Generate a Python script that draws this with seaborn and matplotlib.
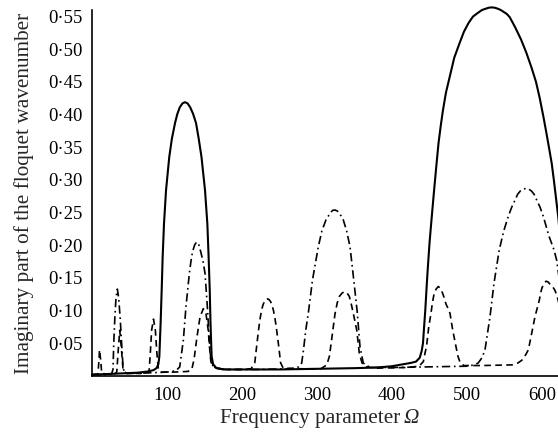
import matplotlib
matplotlib.use("Agg")
import matplotlib.pyplot as plt
import seaborn as sns
import pandas as pd

# ---------------- data ----------------
omega_solid = [0, 20, 40, 60, 75, 82, 86, 88.5, 89.8, 91.5,
               92.9, 94.2, 96, 98.7, 103, 106.5, 110.7, 113.8, 117, 120.5,
               124, 127.5, 131, 134.8, 138.7, 142.3, 146, 150.7, 153.8, 155.5,
               157, 158, 159.5, 161.5, 166, 175, 200, 250, 300, 350,
               380, 400, 415, 425, 432, 437, 439.5, 441.3, 442.8, 444.4,
               445.7, 447, 448.5, 450, 451.9, 453.8, 455.8, 457.8, 459.9, 462,
               465, 468, 472, 477, 483, 490, 496, 502, 508, 515,
               520, 525, 529, 533, 537, 541, 545, 549, 553, 557,
               564, 572, 579, 586, 592, 597, 602, 606, 610, 613,
               616, 619, 622, 626, 629]
imag_solid = [0.002, 0.003, 0.004, 0.005, 0.007, 0.009, 0.012, 0.018, 0.030, 0.081,
              0.131, 0.182, 0.233, 0.284, 0.335, 0.363, 0.387, 0.401, 0.411, 0.417,
              0.419, 0.417, 0.411, 0.401, 0.387, 0.363, 0.335, 0.284, 0.233, 0.182,
              0.131, 0.081, 0.030, 0.018, 0.012, 0.010, 0.010, 0.010, 0.011, 0.012,
              0.013, 0.015, 0.018, 0.020, 0.022, 0.028, 0.038, 0.050, 0.075, 0.101,
              0.127, 0.152, 0.178, 0.203, 0.229, 0.254, 0.280, 0.305, 0.331, 0.356,
              0.383, 0.407, 0.434, 0.458, 0.487, 0.509, 0.527, 0.540, 0.550, 0.556,
              0.560, 0.562, 0.5635, 0.564, 0.5635, 0.562, 0.560, 0.557, 0.554, 0.549,
              0.534, 0.515, 0.495, 0.472, 0.450, 0.425, 0.396, 0.371, 0.345, 0.325,
              0.298, 0.269, 0.240, 0.180, 0.100]

omega_dashdot = [0, 20, 26, 28, 29, 30.5, 32, 33.8, 35.5, 37.5,
                 39.5, 41.5, 44, 60, 80, 100, 112, 117, 121.8, 125.3,
                 129.8, 132, 134, 137, 139.6, 142.3, 145, 148, 150.7, 153.8,
                 156.4, 158.5, 161, 166, 180, 220, 260, 272, 277, 279.6,
                 282, 285, 288.4, 294, 301.8, 306.5, 312, 318, 321, 324,
                 327, 330, 335, 339.5, 344, 349, 353.8, 357.3, 361.7, 366,
                 372, 400, 450, 500, 510, 515, 520, 524, 530.7, 536,
                 543, 549, 555, 559.5, 564, 567.5, 571, 575, 578.7, 582.3,
                 586, 589.5, 593, 597.5, 601.8, 609, 616, 619.6, 624, 628]
imag_dashdot = [0.002, 0.002, 0.003, 0.010, 0.050, 0.090, 0.120, 0.133, 0.120, 0.090,
                0.050, 0.012, 0.004, 0.004, 0.005, 0.006, 0.008, 0.014, 0.055, 0.106,
                0.157, 0.176, 0.190, 0.201, 0.205, 0.201, 0.190, 0.176, 0.157, 0.106,
                0.055, 0.025, 0.016, 0.012, 0.010, 0.010, 0.011, 0.012, 0.015, 0.020,
                0.040, 0.070, 0.096, 0.147, 0.198, 0.222, 0.239, 0.250, 0.2535, 0.254,
                0.2525, 0.249, 0.239, 0.222, 0.198, 0.147, 0.096, 0.045, 0.020, 0.016,
                0.013, 0.013, 0.014, 0.015, 0.017, 0.020, 0.028, 0.040, 0.091, 0.142,
                0.193, 0.222, 0.244, 0.258, 0.269, 0.278, 0.283, 0.286, 0.287, 0.286,
                0.283, 0.278, 0.269, 0.258, 0.244, 0.215, 0.193, 0.177, 0.140, 0.080]

omega_dashed = [0, 7, 8, 9, 10, 11.5, 13, 20, 30, 33,
                35, 37, 39, 41.5, 46, 65, 76, 77.5, 79.5, 82,
                84.5, 86.5, 88.5, 92, 110, 128, 133, 136, 140, 144,
                148.4, 152, 155, 157, 158.5, 161, 166, 180, 200, 212,
                217, 219.5, 222, 224, 226, 228, 230, 232, 234, 236,
                238, 240, 242, 244, 246, 249, 251.5, 255, 280, 305,
                313, 316.5, 320, 324, 327, 330, 333.5, 337, 340, 343,
                345.7, 348.4, 353, 356.4, 360, 365, 380, 420, 436, 441.8,
                444, 446, 449, 452, 454, 456, 458.8, 461.8, 464.5, 467,
                469.5, 472, 474.5, 477.3, 481, 485.3, 488, 491, 496, 520,
                560, 568, 573, 578, 581.8, 586.2, 590.7, 596.4, 598.2, 600,
                602.6, 605.3, 608, 611, 614, 617.3, 620.4, 625, 630]
imag_dashed = [0.002, 0.003, 0.004, 0.020, 0.040, 0.025, 0.004, 0.003, 0.003, 0.006,
               0.040, 0.070, 0.045, 0.008, 0.004, 0.004, 0.006, 0.030, 0.070, 0.087,
               0.070, 0.035, 0.010, 0.006, 0.006, 0.007, 0.010, 0.025, 0.060, 0.090,
               0.103, 0.095, 0.070, 0.040, 0.022, 0.015, 0.012, 0.010, 0.010, 0.011,
               0.020, 0.045, 0.070, 0.087, 0.100, 0.109, 0.114, 0.117, 0.118, 0.117,
               0.114, 0.109, 0.100, 0.088, 0.072, 0.045, 0.020, 0.012, 0.011, 0.011,
               0.017, 0.030, 0.060, 0.095, 0.112, 0.122, 0.127, 0.129, 0.127, 0.122,
               0.110, 0.096, 0.070, 0.035, 0.020, 0.014, 0.012, 0.013, 0.015, 0.022,
               0.035, 0.045, 0.075, 0.096, 0.113, 0.125, 0.133, 0.137, 0.134, 0.128,
               0.120, 0.110, 0.104, 0.096, 0.070, 0.045, 0.030, 0.020, 0.016, 0.016,
               0.017, 0.020, 0.024, 0.032, 0.040, 0.065, 0.091, 0.116, 0.127, 0.135,
               0.141, 0.145, 0.144, 0.140, 0.137, 0.131, 0.121, 0.100, 0.060]

assert len(omega_solid) == len(imag_solid)
assert len(omega_dashdot) == len(imag_dashdot)
assert len(omega_dashed) == len(imag_dashed)

yticks = [0.05, 0.10, 0.15, 0.20, 0.25, 0.30, 0.35, 0.40, 0.45, 0.50, 0.55]
ytick_labels = ['0·05', '0·10', '0·15', '0·20', '0·25', '0·30', '0·35',
                '0·40', '0·45', '0·50', '0·55']
xticks = [100, 200, 300, 400, 500, 600]
xtick_labels = ['100', '200', '300', '400', '500', '600']

# ---------------- figure ----------------
sns.set_style("white")
plt.rcParams['font.family'] = ['Liberation Serif', 'DejaVu Serif']
plt.rcParams['font.size'] = 13.5

W, H = 558, 437
fig = plt.figure(figsize=(W / 100, H / 100), dpi=100)
ax_left, ax_bottom, ax_w, ax_h = 92, 61, 480, 366
ax = fig.add_axes([ax_left / W, ax_bottom / H, ax_w / W, ax_h / H])

df_s = pd.DataFrame({'x': omega_solid, 'y': imag_solid})
df_dd = pd.DataFrame({'x': omega_dashdot, 'y': imag_dashdot})
df_ds = pd.DataFrame({'x': omega_dashed, 'y': imag_dashed})

sns.lineplot(data=df_ds, x='x', y='y', ax=ax, color='black', lw=1.2,
             linestyle=(0, (4, 2.6)), sort=False, estimator=None)
sns.lineplot(data=df_dd, x='x', y='y', ax=ax, color='black', lw=1.2,
             linestyle=(0, (5, 2.2, 1, 2.2)), sort=False, estimator=None)
sns.lineplot(data=df_s, x='x', y='y', ax=ax, color='black', lw=1.5,
             sort=False, estimator=None, clip_on=False)

ax.set_xlim(0, 640)
ax.set_ylim(0, 0.56)
ax.set_xticks(xticks)
ax.set_xticklabels(xtick_labels)
ax.set_yticks(yticks)
ax.set_yticklabels(ytick_labels)

for s in ['top', 'right']:
    ax.spines[s].set_visible(False)
for s in ['left', 'bottom']:
    ax.spines[s].set_linewidth(1.2)
    ax.spines[s].set_color('black')

ax.tick_params(axis='both', direction='in', length=3.5, width=1.0,
               colors='black', labelsize=13.5)
ax.tick_params(axis='y', pad=7)
ax.tick_params(axis='x', pad=8)

ax.set_ylabel('Imaginary part of the floquet wavenumber', fontsize=15.3,
              labelpad=10)
ax.set_xlabel('')

# x label: plain text plus italic Omega
label_y = ((H - 423) - ax_bottom) / ax_h
ax.text((400 - ax_left) / ax_w, label_y,
        'Frequency parameter', transform=ax.transAxes, ha='right',
        va='baseline', fontsize=15.3)
ax.text((404 - ax_left) / ax_w, label_y,
        'Ω', transform=ax.transAxes, ha='left', va='baseline',
        fontsize=15.3, style='italic')

fig.savefig('out.png', dpi=100)
